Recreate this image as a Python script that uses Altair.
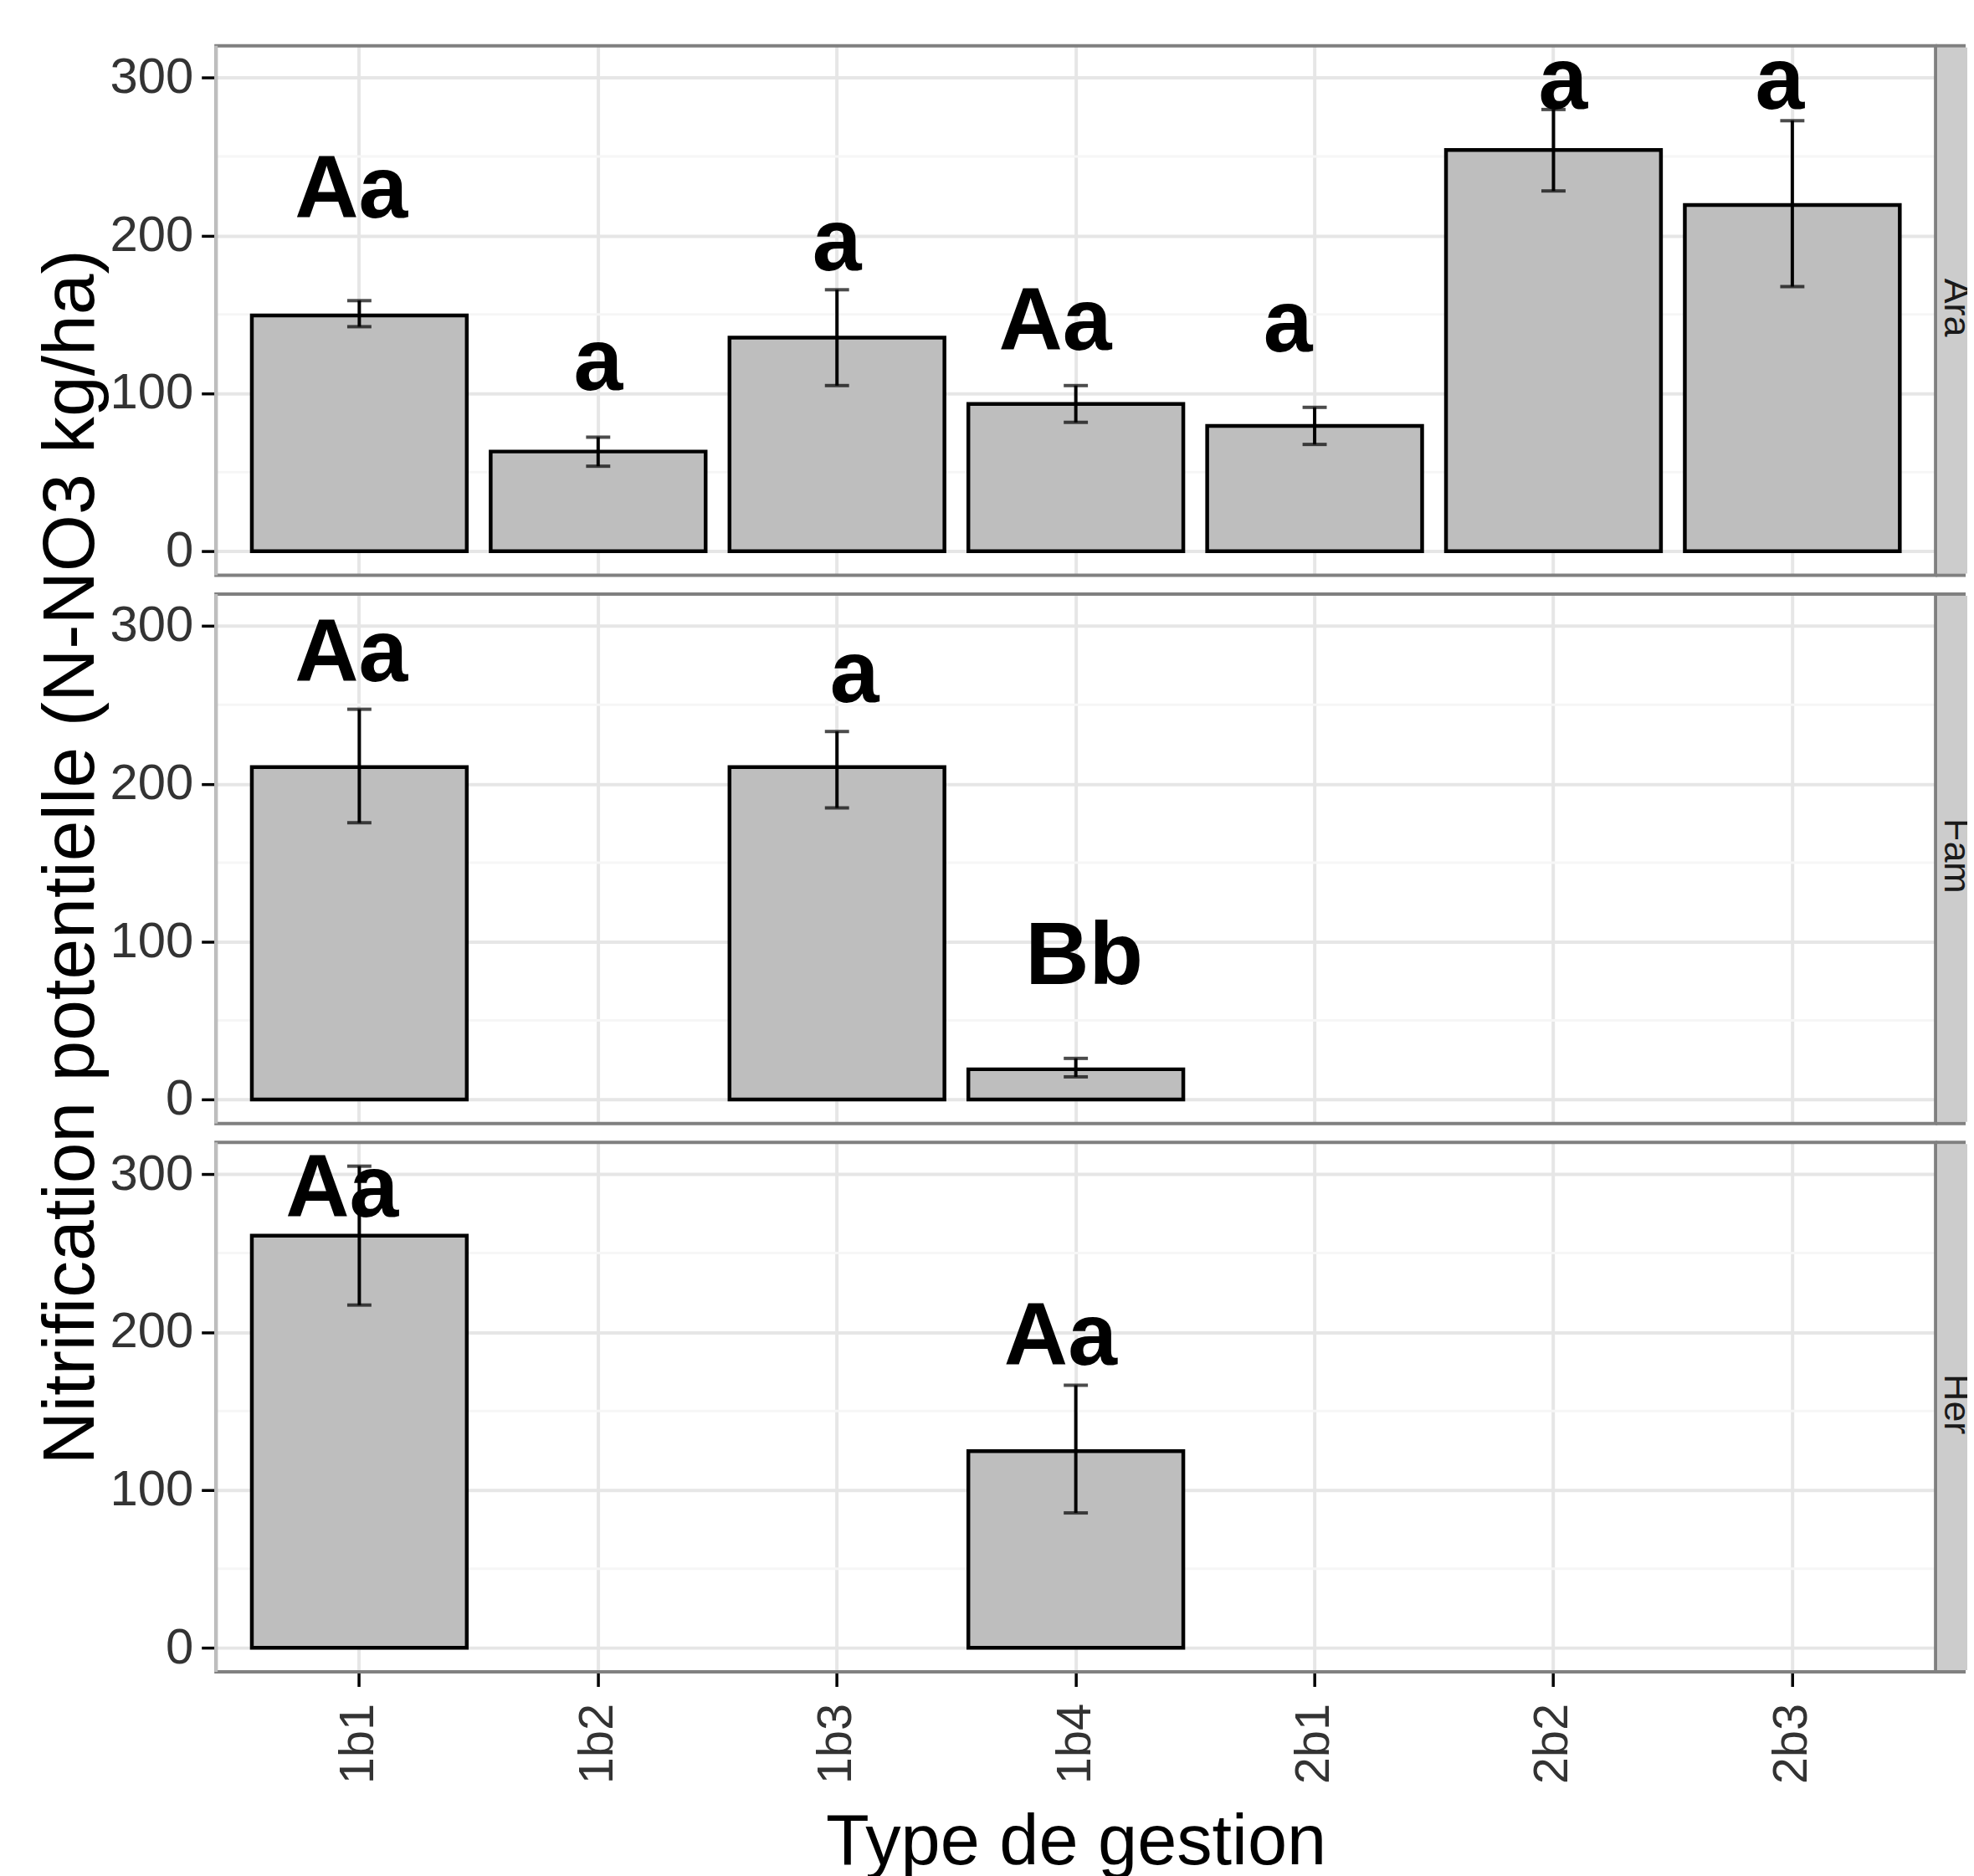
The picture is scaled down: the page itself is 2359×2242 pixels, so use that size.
import altair as alt
import pandas as pd

FONT = "Liberation Sans"

categories = ["1b1", "1b2", "1b3", "1b4", "2b1", "2b2", "2b3"]
panels = ["Ara", "Fam", "Her"]

ara_cat = ["1b1", "1b2", "1b3", "1b4", "2b1", "2b2", "2b3"]
ara_mean = [149.3, 63.1, 135.3, 93.3, 79.3, 254.2, 219.3]
ara_lo = [142.2, 53.8, 104.9, 81.6, 67.6, 228.2, 167.6]
ara_hi = [158.7, 72.2, 165.6, 104.9, 91.1, 279.8, 272.7]
ara_lab = ["Aa", "a", "a", "Aa", "a", "a", "a"]
ara_lab_x = [0.966, 2.0, 3.0, 3.914, 4.888, 6.040, 6.947]
ara_lab_y = [211.1, 102.0, 178.2, 127.8, 126.4, 280.4, 280.4]

fam_cat = ["1b1", "1b3", "1b4"]
fam_mean = [210.5, 210.5, 19.1]
fam_lo = [175.3, 184.7, 14.3]
fam_hi = [247.2, 233.1, 26.0]
fam_lab = ["Aa", "a", "Bb"]
fam_lab_x = [0.966, 3.073, 4.035]
fam_lab_y = [265.0, 251.6, 73.0]

her_cat = ["1b1", "1b4"]
her_mean = [261.0, 124.6]
her_lo = [217.1, 85.4]
her_hi = [305.1, 166.3]
her_lab = ["Aa", "Aa"]
her_lab_x = [0.928, 3.936]
her_lab_y = [273.1, 179.1]

y_ticks = [0, 100, 200, 300]
y_minor = [50, 150, 250]
y_domain = [-15.3, 320.2]

PLOT_W = 2062
CELL_W = 2100
H = 635

GRID = "#E6E6E6"


def panel(name, cats, mean, lo, hi, labs, lx, ly, bottom=False, ytitle=False):
    df = pd.DataFrame({"cat": cats, "mean": mean, "lo": lo, "hi": hi})
    lab_df = pd.DataFrame({"lab": labs, "lx": lx, "ly": ly})
    minor_df = pd.DataFrame({"v": y_minor})
    one_df = pd.DataFrame({"panel": [name]})

    yscale = alt.Scale(domain=y_domain, nice=False, zero=False)
    xscale = alt.Scale(domain=categories, range=[0, PLOT_W],
                       paddingInner=0.1, paddingOuter=0.15)

    if bottom:
        xaxis = alt.Axis(
            title="Type de gestion", labelAngle=270, labelFontSize=58,
            labelFont=FONT, labelColor="#333333", labelPadding=20,
            tickSize=17.5, tickWidth=3.5, tickColor="#000000", domain=False,
            grid=True, gridColor=GRID, gridWidth=4, bandPosition=0.5,
            titleFontSize=85, titleFont=FONT, titleFontWeight="normal",
            titleColor="#000000", titleX=PLOT_W / 2, titleY=230.5,
            titleBaseline="alphabetic", titleAlign="center", titleAngle=0)
    else:
        xaxis = alt.Axis(title=None, labels=False, ticks=False, domain=False,
                         grid=True, gridColor=GRID, gridWidth=4,
                         bandPosition=0.5)

    yaxis_kw = dict(
        values=y_ticks, labelFontSize=60, labelFont=FONT,
        labelColor="#333333", labelPadding=10, tickSize=17.5, tickWidth=3.5,
        tickColor="#000000", domain=False, grid=True, gridColor=GRID,
        gridWidth=4)
    if ytitle:
        yaxis = alt.Axis(
            title="Nitrification potentielle (N-NO3 kg/ha)", titleFontSize=88,
            titleFont=FONT, titleFontWeight="normal", titleColor="#000000",
            titleAngle=270, titleX=-147.5, titleY=315,
            titleBaseline="alphabetic", titleAlign="center", **yaxis_kw)
    else:
        yaxis = alt.Axis(title=None, **yaxis_kw)

    minor = alt.Chart(minor_df).mark_rule(color="#F6F6F6", strokeWidth=3).encode(
        y=alt.Y("v:Q", scale=yscale, axis=yaxis),
        x=alt.value(0), x2=alt.value(PLOT_W))

    bars = alt.Chart(df).mark_bar(fill="#BEBEBE", stroke="#000000",
                                  strokeWidth=4.5).encode(
        x=alt.X("cat:N", scale=xscale, axis=xaxis, sort=categories),
        y=alt.Y("mean:Q", scale=yscale, axis=yaxis))

    err = alt.Chart(df).mark_rule(color="#000000", strokeWidth=4).encode(
        x=alt.X("cat:N", scale=xscale, axis=None, sort=categories),
        y=alt.Y("lo:Q", scale=yscale, axis=yaxis), y2="hi:Q")

    cap_hi = alt.Chart(df).mark_tick(color="#000000", size=29, thickness=4,
                                     orient="horizontal").encode(
        x=alt.X("cat:N", scale=xscale, axis=None, sort=categories),
        y=alt.Y("hi:Q", scale=yscale, axis=yaxis))

    cap_lo = alt.Chart(df).mark_tick(color="#000000", size=29, thickness=4,
                                     orient="horizontal").encode(
        x=alt.X("cat:N", scale=xscale, axis=None, sort=categories),
        y=alt.Y("lo:Q", scale=yscale, axis=yaxis))

    labels = alt.Chart(lab_df).mark_text(
        font=FONT, fontSize=106, fontWeight="bold", baseline="alphabetic",
        align="center", color="#000000").encode(
        x=alt.X("lx:Q", scale=alt.Scale(domain=[0.4, 7.6], range=[0, PLOT_W],
                                        nice=False, zero=False), axis=None),
        y=alt.Y("ly:Q", scale=yscale, axis=yaxis),
        text="lab:N")

    border = alt.Chart(one_df).mark_rect(fill="transparent", stroke="#808080",
                                         strokeWidth=4).encode(
        x=alt.value(0), x2=alt.value(PLOT_W), y=alt.value(0), y2=alt.value(H))

    left_edge = alt.Chart(one_df).mark_rule(color="#BEBEBE", strokeWidth=4).encode(
        x=alt.value(0), y=alt.value(0), y2=alt.value(H))

    strip_fill = alt.Chart(one_df).mark_rect(fill="#CCCCCC").encode(
        x=alt.value(PLOT_W + 2), x2=alt.value(CELL_W),
        y=alt.value(2), y2=alt.value(H - 2))

    strip_top = alt.Chart(one_df).mark_rule(color="#808080", strokeWidth=4).encode(
        x=alt.value(PLOT_W), x2=alt.value(CELL_W - 2), y=alt.value(0))
    strip_bot = alt.Chart(one_df).mark_rule(color="#808080", strokeWidth=4).encode(
        x=alt.value(PLOT_W), x2=alt.value(CELL_W - 2), y=alt.value(H))

    strip_text = alt.Chart(one_df).mark_text(
        angle=90, fontSize=45, font=FONT, color="#1A1A1A",
        baseline="alphabetic", align="center", clip=True).encode(
        text="panel:N", x=alt.value(2073), y=alt.value(314))

    return alt.layer(
        minor, bars, err, cap_hi, cap_lo, labels, border, left_edge,
        strip_fill, strip_top, strip_bot, strip_text
    ).resolve_scale(x="independent").properties(width=CELL_W, height=H)


p1 = panel("Ara", ara_cat, ara_mean, ara_lo, ara_hi, ara_lab, ara_lab_x, ara_lab_y)
p2 = panel("Fam", fam_cat, fam_mean, fam_lo, fam_hi, fam_lab, fam_lab_x, fam_lab_y,
           ytitle=True)
p3 = panel("Her", her_cat, her_mean, her_lo, her_hi, her_lab, her_lab_x, her_lab_y,
           bottom=True)

chart = alt.vconcat(p1, p2, p3, spacing=22.5, bounds="flush").properties(
    padding={"left": 33, "top": 33, "right": 0, "bottom": 0},
    background="white",
).configure_view(stroke=None)

chart.save("out.html", embed_options={"renderer": "svg", "actions": False})
